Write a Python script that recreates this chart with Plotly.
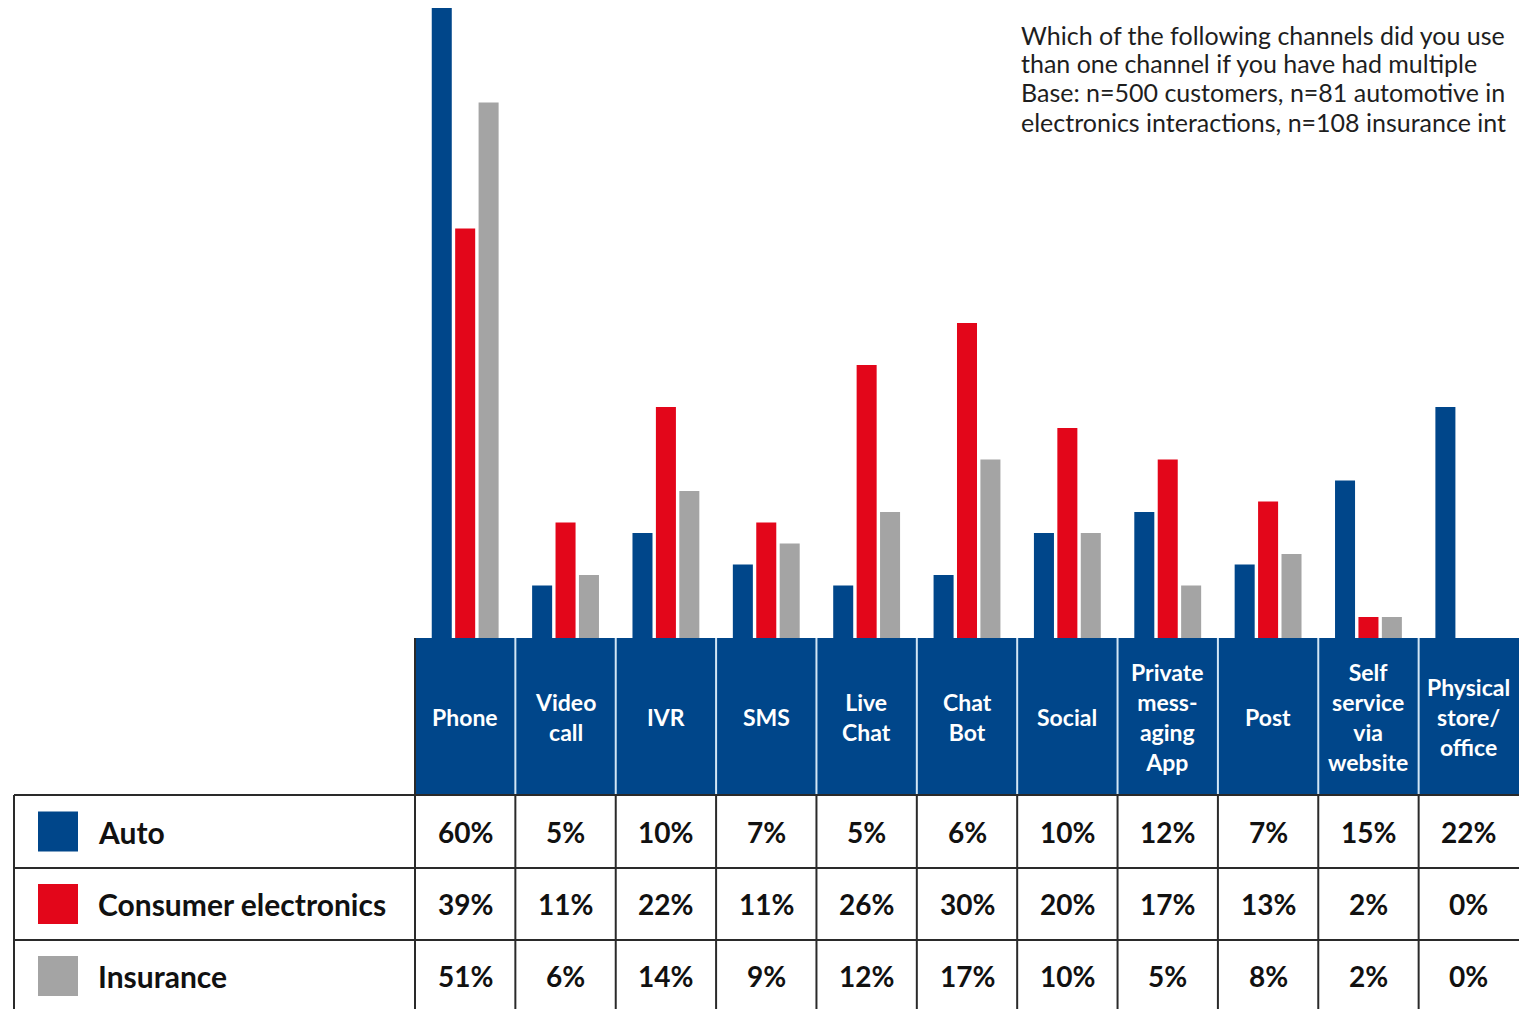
import plotly.graph_objects as go

# ---- data -------------------------------------------------------------
channels = [
    "Phone", "Video call", "IVR", "SMS", "Live Chat", "Chat Bot", "Social",
    "Private messaging App", "Post", "Self service via website",
    "Physical store/office",
]
header_labels = [
    "Phone", "Video<br>call", "IVR", "SMS", "Live<br>Chat", "Chat<br>Bot",
    "Social", "Private<br>mess-<br>aging<br>App", "Post",
    "Self<br>service<br>via<br>website", "Physical<br>store/<br>office",
]
auto = [60, 5, 10, 7, 5, 6, 10, 12, 7, 15, 22]
consumer_electronics = [39, 11, 22, 11, 26, 30, 20, 17, 13, 2, 0]
insurance = [51, 6, 14, 9, 12, 17, 10, 5, 8, 2, 0]

series_names = ["Auto", "Consumer electronics", "Insurance"]
series_values = [auto, consumer_electronics, insurance]
series_colors = ["#00468A", "#E3061A", "#A4A4A4"]

title_lines = [
    "Which of the following channels did you use",
    "than one channel if you have had multiple",
    "Base: n=500 customers, n=81 automotive in",
    "electronics interactions, n=108 insurance int",
]

# ---- layout constants (pixels) ------------------------------------------
W, H = 1519, 1009
TABLE_TOP = 638          # top of blue header / bar baseline
HEADER_BOTTOM = 795
ROW_EDGES = [795, 868, 940, 1012]
LEFT_EDGE = 14
FIRST_COL = 415
HEADER_BLUE = "#00468A"
GRID = "#2A2A2A"
FONT = "Lato"
TITLE_LINE_Y = [35, 63, 92, 122]


def py(p):
    return 1 - p / H


def px(p):
    return p / W


fig = go.Figure()
for name, vals, color in zip(series_names, series_values, series_colors):
    fig.add_trace(go.Bar(
        x=channels, y=vals, name=name,
        marker=dict(color=color, line=dict(width=0)),
        hoverinfo="x+y+name",
    ))

fig.update_layout(
    width=W, height=H,
    margin=dict(l=0, r=0, t=0, b=0),
    barmode="group", bargap=0.3, bargroupgap=0.145,
    showlegend=False,
    plot_bgcolor="white", paper_bgcolor="white",
    xaxis=dict(domain=[FIRST_COL / W, 1], range=[-0.5, 10.5],
               visible=False, fixedrange=True),
    yaxis=dict(domain=[py(TABLE_TOP), 1], range=[0, 60.76],
               visible=False, fixedrange=True),
)

shapes = []
# header band
shapes.append(dict(type="rect", xref="x", yref="paper",
                   x0=-0.5, x1=10.5, y0=py(HEADER_BOTTOM), y1=py(TABLE_TOP),
                   fillcolor=HEADER_BLUE, line=dict(width=0), layer="below"))
# light separators inside header
for i in range(1, len(channels)):
    shapes.append(dict(type="line", xref="x", yref="paper",
                       x0=i - 0.5, x1=i - 0.5,
                       y0=py(HEADER_BOTTOM), y1=py(TABLE_TOP),
                       line=dict(color="#D2E6F5", width=2)))
# body horizontal rules
for edge in ROW_EDGES[:-1]:
    shapes.append(dict(type="line", xref="paper", yref="paper",
                       x0=px(LEFT_EDGE), x1=1, y0=py(edge), y1=py(edge),
                       line=dict(color=GRID, width=2)))
# body vertical rules
shapes.append(dict(type="line", xref="paper", yref="paper",
                   x0=px(LEFT_EDGE), x1=px(LEFT_EDGE),
                   y0=py(H + 5), y1=py(HEADER_BOTTOM),
                   line=dict(color=GRID, width=2)))
shapes.append(dict(type="line", xref="paper", yref="paper",
                   x0=px(FIRST_COL), x1=px(FIRST_COL),
                   y0=py(H + 5), y1=py(TABLE_TOP),
                   line=dict(color=GRID, width=2)))
for i in range(1, len(channels)):
    shapes.append(dict(type="line", xref="x", yref="paper",
                       x0=i - 0.5, x1=i - 0.5,
                       y0=py(H + 5), y1=py(HEADER_BOTTOM),
                       line=dict(color=GRID, width=2)))

annotations = []
# header labels
for ch, lab in zip(channels, header_labels):
    annotations.append(dict(
        x=ch, xref="x", y=py((TABLE_TOP + HEADER_BOTTOM) / 2), yref="paper",
        text=lab, showarrow=False, xanchor="center", yanchor="middle",
        align="center",
        font=dict(family=FONT, size=23, color="white", weight=700),
    ))

# rows: legend swatch, series name and values
for r, (name, vals, color) in enumerate(zip(series_names, series_values, series_colors)):
    top, bottom = ROW_EDGES[r], ROW_EDGES[r + 1]
    mid = (top + bottom) / 2
    shapes.append(dict(type="rect", xref="paper", yref="paper",
                       x0=px(38), x1=px(78), y0=py(mid + 20), y1=py(mid - 20),
                       fillcolor=color, line=dict(width=0)))
    annotations.append(dict(
        x=px(96), xref="paper", y=py(mid), yref="paper", text=name,
        showarrow=False, xanchor="left", yanchor="middle",
        font=dict(family=FONT, size=30, color="#111111", weight=700),
    ))
    for ch, v in zip(channels, vals):
        annotations.append(dict(
            x=ch, xref="x", y=py(mid), yref="paper", text=f"{v}%",
            showarrow=False, xanchor="center", yanchor="middle",
            font=dict(family=FONT, size=28, color="#111111", weight=700),
        ))

# question / base note, one line per annotation to keep the tight leading
for line, yc in zip(title_lines, TITLE_LINE_Y):
    annotations.append(dict(
        x=px(1019), xref="paper", y=py(yc), yref="paper",
        text=line, showarrow=False,
        xanchor="left", yanchor="middle", align="left",
        font=dict(family=FONT, size=25, color="#1E1E1E"),
    ))

fig.update_layout(shapes=shapes, annotations=annotations)
fig.write_html("out.html", config=dict(displayModeBar=False))
